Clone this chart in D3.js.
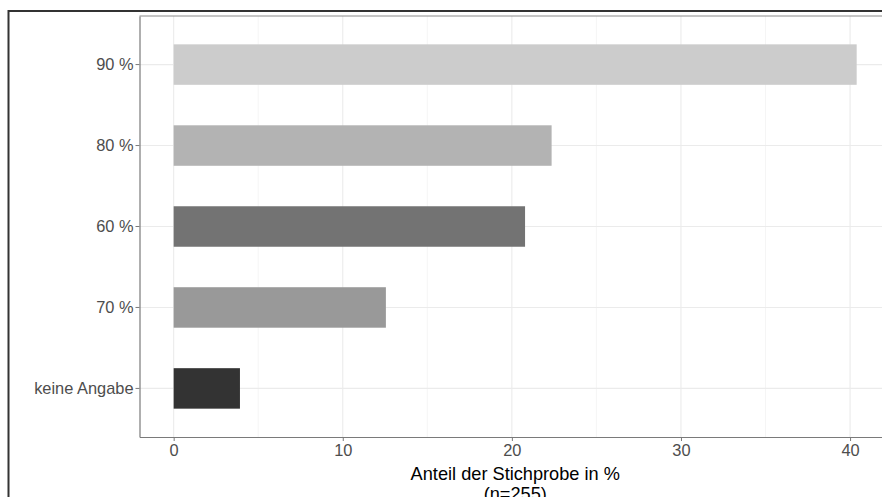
<!DOCTYPE html>
<html><head><meta charset="utf-8">
<script src="https://cdn.jsdelivr.net/npm/d3@7"></script>
<style>html,body{margin:0;padding:0;background:#fff;overflow:hidden}</style>
</head><body>
<svg id="c" width="882" height="497"></svg>
<script>
const categories = ["90 %", "80 %", "60 %", "70 %", "keine Angabe"];
const values = [40.39, 22.35, 20.78, 12.55, 3.92];
const barColors = ["#cccccc", "#b3b3b3", "#737373", "#999999", "#333333"];
const xMajorTicks = [0, 10, 20, 30, 40];
const xMinorTicks = [5, 15, 25, 35];
const xTitle = "Anteil der Stichprobe in %";
const xSubTitle = "(n=255)";

const svg = d3.select("#c");
const font = "'Liberation Sans', Arial, Helvetica, sans-serif";
const L = 139.5, R = 891, T = 16, B = 437;

// outer frame
svg.append("rect").attr("x", 8.5).attr("y", 11).attr("width", 1000).attr("height", 600)
  .attr("fill", "none").attr("stroke", "#333").attr("stroke-width", 2);

const x = d3.scaleLinear().domain([-2.02, 42.42]).range([L, R]);
const y = d3.scaleBand().domain(categories).range([T, B]).paddingInner(0.5).paddingOuter(0.35);

const g = svg.append("g");
// grid
g.selectAll(".minor").data(xMinorTicks).enter().append("line")
  .attr("x1", d => x(d)).attr("x2", d => x(d)).attr("y1", T).attr("y2", B)
  .attr("stroke", "#f2f2f2").attr("stroke-width", 0.8);
g.selectAll(".major").data(xMajorTicks).enter().append("line")
  .attr("x1", d => x(d)).attr("x2", d => x(d)).attr("y1", T).attr("y2", B)
  .attr("stroke", "#ebebeb").attr("stroke-width", 1.1);
g.selectAll(".hg").data(categories).enter().append("line")
  .attr("x1", L).attr("x2", R)
  .attr("y1", d => y(d) + y.bandwidth() / 2).attr("y2", d => y(d) + y.bandwidth() / 2)
  .attr("stroke", "#ebebeb").attr("stroke-width", 1.1);

// bars
g.selectAll(".bar").data(categories).enter().append("rect")
  .attr("x", x(0)).attr("y", d => y(d))
  .attr("width", (d, i) => x(values[i]) - x(0)).attr("height", y.bandwidth())
  .attr("fill", (d, i) => barColors[i]);

// panel top line
svg.append("line").attr("x1", L).attr("x2", R).attr("y1", T).attr("y2", T)
  .attr("stroke", "#8a8a8a").attr("stroke-width", 1);

// axes
const xAxis = svg.append("g").attr("transform", `translate(0,${B})`)
  .call(d3.axisBottom(x).tickValues(xMajorTicks).tickSize(4).tickPadding(3).tickSizeOuter(0));
xAxis.select(".domain").attr("stroke", "#7a7a7a").attr("stroke-width", 1.2);
xAxis.selectAll(".tick line").attr("stroke", "#7a7a7a");
xAxis.selectAll("text").attr("fill", "#4d4d4d").style("font-family", font).style("font-size", "16.4px");

const yAxis = svg.append("g").attr("transform", `translate(${L},0)`)
  .call(d3.axisLeft(y).tickSize(4).tickPadding(2).tickSizeOuter(0));
yAxis.select(".domain").attr("stroke", "#7a7a7a").attr("stroke-width", 1.2);
yAxis.selectAll(".tick line").attr("stroke", "#7a7a7a");
yAxis.selectAll("text").attr("fill", "#4d4d4d").style("font-family", font).style("font-size", "16.4px");

// titles
const cx = (L + R) / 2;
svg.append("text").attr("x", cx).attr("y", 480).attr("text-anchor", "middle")
  .style("font-family", font).style("font-size", "18.2px").attr("fill", "#000").text(xTitle);
svg.append("text").attr("x", cx).attr("y", 500).attr("text-anchor", "middle")
  .style("font-family", font).style("font-size", "18.2px").attr("fill", "#000").text(xSubTitle);
</script>
</body></html>
